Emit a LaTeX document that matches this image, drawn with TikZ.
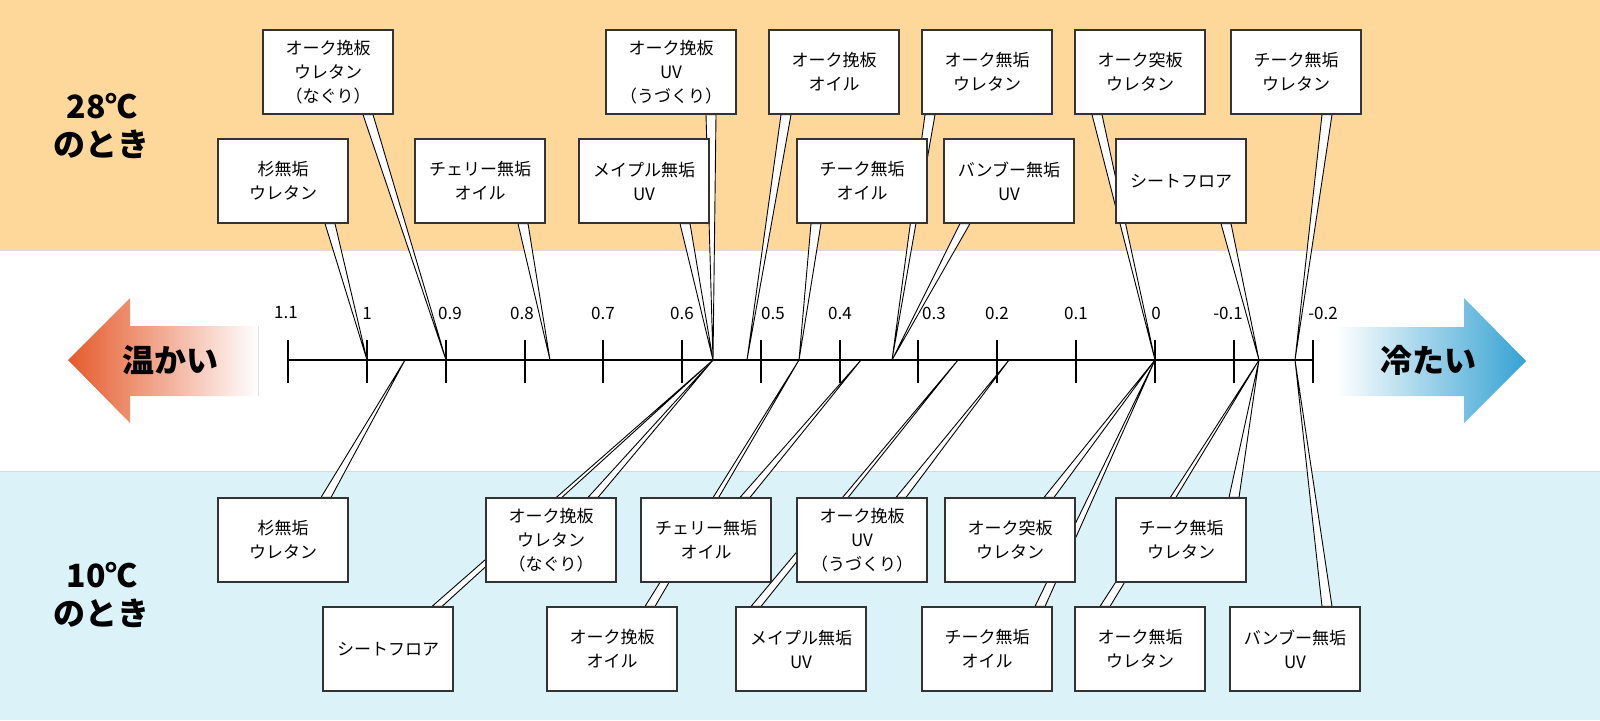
\documentclass[tikz,border=0pt]{standalone}
\usepackage{fontspec}
\setmainfont{Noto Sans CJK JP}
\usetikzlibrary{calc}
\definecolor{warmband}{HTML}{FDD89A}
\definecolor{coolband}{HTML}{DAF2F8}
\definecolor{warmred}{HTML}{E55A2B}
\definecolor{coolblue}{HTML}{36A2D3}
\tikzset{
  card/.style={draw=black!80,line width=0.6pt,fill=white,minimum width=64.5pt,minimum height=42pt,
    align=center,inner sep=1pt,font=\fontsize{8.5}{12}\selectfont},
  wedge/.style={draw=black,line width=0.45pt,fill=white,line join=miter},
  tick/.style={line width=1.4pt},
  ticklabel/.style={font=\fontsize{8.5}{10}\selectfont},
  side/.style={font=\fontsize{16}{19}\selectfont\bfseries,align=center}
}
\begin{document}
\begin{tikzpicture}[x=0.5pt,y=-0.5pt,line cap=butt]
\useasboundingbox (0,0) rectangle (1600,720);
% bands
\fill[warmband] (0,0) rectangle (1600,250);
\fill[coolband] (0,471) rectangle (1600,720);
\draw[black!15,line width=0.4pt] (0,250) -- (1600,250) (0,471) -- (1600,471);
% axis
\coordinate (axL) at (288,360);
\coordinate (axR) at (1313,360);
\draw[tick] (axL) -- (axR);
\foreach \x/\lab/\lx in {288/1.1/286,367/1/367,446/0.9/450,525/0.8/522,603/0.7/603,682/0.6/682,
  761/0.5/773,840/0.4/840,918/0.3/934,997/0.2/997,1076/0.1/1076,1155/0/1156,1234/-0.1/1228,1313/-0.2/1323}{
  \draw[tick] (\x,340) -- (\x,383);
  \node[ticklabel] at (\lx,313) {\lab};
}
% tips on the axis
\foreach \t in {367,405,446,550,713,747,799,861,892,958,1009,1155,1259,1295}
  \coordinate (v\t) at (\t,360);
% cards, upper rows
\node[card] (nagT) at (328,72) {オーク挽板\\ウレタン\\（なぐり）};
\node[card] (uvT) at (671,72) {オーク挽板\\UV\\（うづくり）};
\node[card] (oilT) at (834,72) {オーク挽板\\オイル};
\node[card] (okmT) at (987,72) {オーク無垢\\ウレタン};
\node[card] (tsuT) at (1140,72) {オーク突板\\ウレタン};
\node[card] (tekT) at (1296,72) {チーク無垢\\ウレタン};
\node[card] (sugT) at (283,181) {杉無垢\\ウレタン};
\node[card] (cheT) at (480,181) {チェリー無垢\\オイル};
\node[card] (mapT) at (644,181) {メイプル無垢\\UV};
\node[card] (tkoT) at (862,181) {チーク無垢\\オイル};
\node[card] (banT) at (1009,181) {バンブー無垢\\UV};
\node[card] (shtT) at (1181,181) {シートフロア};
% cards, lower rows
\node[card] (sugB) at (283,540) {杉無垢\\ウレタン};
\node[card] (nagB) at (551,540) {オーク挽板\\ウレタン\\（なぐり）};
\node[card] (cheB) at (706,540) {チェリー無垢\\オイル};
\node[card] (uvB) at (862,540) {オーク挽板\\UV\\（うづくり）};
\node[card] (tsuB) at (1010,540) {オーク突板\\ウレタン};
\node[card] (tekB) at (1181,540) {チーク無垢\\ウレタン};
\node[card] (shtB) at (388,649) {シートフロア};
\node[card] (oilB) at (612,649) {オーク挽板\\オイル};
\node[card] (mapB) at (801,649) {メイプル無垢\\UV};
\node[card] (tkoB) at (987,649) {チーク無垢\\オイル};
\node[card] (okmB) at (1140,649) {オーク無垢\\ウレタン};
\node[card] (banB) at (1295,649) {バンブー無垢\\UV};
% pointers (drawn behind the cards)
\begin{scope}[on background layer/.style={}]
\foreach \n/\o/\a/\t in {nagT/40/south/446,uvT/40/south/713,oilT/-48/south/747,okmT/-57/south/892,
  tsuT/-43/south/1155,tekT/31/south/1295,sugT/47/south/367,cheT/43/south/550,mapT/41/south/713,
  tkoT/-46/south/799,banT/-44/south/892,shtT/45/south/1259,
  sugB/43/north/405,nagB/42/north/713,cheB/39/north/861,uvB/39/north/1009,tsuB/39/north/1155,
  tekB/53/north/1259,shtB/49/north/713,oilB/38/north/799,mapB/-45/north/958,tkoB/53/north/1155,
  okmB/-35/north/1259,banB/32/north/1295}
  \filldraw[wedge] ($(\n.\a)+(\o-5,0)$) -- (v\t) -- ($(\n.\a)+(\o+5,0)$) -- cycle;
\end{scope}
% cards again on top of the pointers
\foreach \n in {nagT,uvT,oilT,okmT,tsuT,tekT,sugT,cheT,mapT,tkoT,banT,shtT,
  sugB,nagB,cheB,uvB,tsuB,tekB,shtB,oilB,mapB,tkoB,okmB,banB}
  \draw[black!80,line width=0.6pt] (\n.north west) rectangle (\n.south east);
\foreach \n/\s in {nagT/{オーク挽板\\ウレタン\\（なぐり）},uvT/{オーク挽板\\UV\\（うづくり）},oilT/{オーク挽板\\オイル},
  okmT/{オーク無垢\\ウレタン},tsuT/{オーク突板\\ウレタン},tekT/{チーク無垢\\ウレタン},sugT/{杉無垢\\ウレタン},
  cheT/{チェリー無垢\\オイル},mapT/{メイプル無垢\\UV},tkoT/{チーク無垢\\オイル},banT/{バンブー無垢\\UV},
  shtT/{シートフロア},sugB/{杉無垢\\ウレタン},nagB/{オーク挽板\\ウレタン\\（なぐり）},cheB/{チェリー無垢\\オイル},
  uvB/{オーク挽板\\UV\\（うづくり）},tsuB/{オーク突板\\ウレタン},tekB/{チーク無垢\\ウレタン},shtB/{シートフロア},
  oilB/{オーク挽板\\オイル},mapB/{メイプル無垢\\UV},tkoB/{チーク無垢\\オイル},okmB/{オーク無垢\\ウレタン},
  banB/{バンブー無垢\\UV}}
  \node[card] at (\n) {\s};
% side labels
\node[side] (hot) at (102,126) {28℃\\のとき};
\node[side] (cold) at (102,595) {10℃\\のとき};
% arrows
\shade[left color=warmred,right color=white] (68,360) -- (130,298) -- (130,326) -- (258,326)
  -- (258,396) -- (130,396) -- (130,423) -- cycle;
\draw[black!12,line width=0.4pt] (258,326) -- (258,396);
\node[side] (warm) at (170,360) {温かい};
\shade[left color=white,right color=coolblue] (1526,361) -- (1464,298) -- (1464,327) -- (1336,327)
  -- (1336,396) -- (1464,396) -- (1464,423) -- cycle;
\node[side] (cool) at (1428,360) {冷たい};
\end{tikzpicture}
\end{document}
